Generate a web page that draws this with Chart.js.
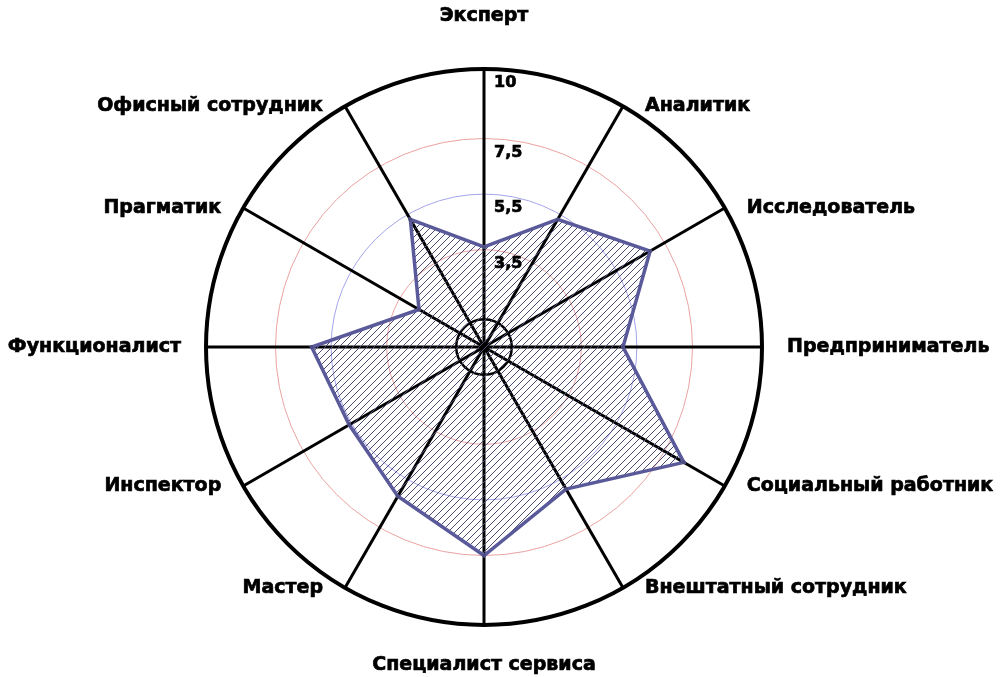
<!DOCTYPE html>
<html>
<head>
<meta charset="utf-8">
<script src="https://cdn.jsdelivr.net/npm/chart.js@4/dist/chart.umd.min.js"></script>
<style>
    body { margin: 0; background: #fff; }
    #chart { display: block; }
</style>
</head>
<body>
<canvas id="chart" width="1003" height="677"></canvas>
<script>
const categories = ['Эксперт', 'Аналитик', 'Исследователь', 'Предприниматель', 'Социальный работник',
    'Внештатный сотрудник', 'Специалист сервиса', 'Мастер', 'Инспектор', 'Функционалист',
    'Прагматик', 'Офисный сотрудник']
const values     = [3.6, 5.3, 6.9, 5.0, 8.3, 5.9, 7.5, 6.2, 5.6, 6.2, 2.7, 5.3]
const gridValues = [0, 1, 3.5, 5.5, 7.5, 10]
const tickLabels = ['10', '7,5', '5,5', '3,5']

const labelFont = 'bold 19px "DejaVu Sans"'
const tickFont  = 'bold 16px "DejaVu Sans"'

// hatch pattern for the filled area
function hatch() {
    const c   = document.createElement('canvas')
    c.width   = 7
    c.height  = 7
    const g   = c.getContext('2d')
    g.strokeStyle = '#4c4c72'
    g.lineWidth   = 1
    g.beginPath()
    g.moveTo(0, 7); g.lineTo(7, 0)
    g.moveTo(-1, 1); g.lineTo(1, -1)
    g.moveTo(6, 8); g.lineTo(8, 6)
    g.stroke()
    return g.createPattern(c, 'repeat')
}

function gridColor(ctx) {
    let v = ctx.tick ? ctx.tick.value : 0
    if (v === 3.5 || v === 7.5) return '#eaa2a2'
    if (v === 5.5) return '#a4a4ea'
    return '#000'
}

function gridWidth(ctx) {
    let v = ctx.tick ? ctx.tick.value : 0
    if (v === 10) return 4
    if (v === 1) return 2.5
    return 1
}

// heavier text, like the old bitmap font
function heavyText(ctx, text, x, y) {
    ctx.strokeText(text, x, y)
    ctx.fillText(text, x, y)
}

// category names and tick numbers drawn next to the scale
const textPlugin = {
    id: 'texts',
    afterDraw(chart) {
        const s   = chart.scales.r
        const ctx = chart.ctx
        const R   = s.drawingArea
        ctx.save()
        ctx.fillStyle    = '#000'
        ctx.strokeStyle  = '#000'
        ctx.lineWidth    = 0.7
        ctx.textBaseline = 'middle'

        ctx.font = labelFont
        categories.forEach((name, i) => {
            let angle = i * 30
            let p     = s.getPointPosition(i, R)
            let x = p.x, y = p.y, align
            if (angle === 0)        { align = 'center'; y -= 53 }
            else if (angle === 180) { align = 'center'; y += 40 }
            else if (angle === 90)  { align = 'left';   x += 25 }
            else if (angle === 270) { align = 'right';  x -= 25 }
            else if (angle < 180)   { align = 'left';   x += 22 }
            else                    { align = 'right';  x -= 22 }
            ctx.textAlign = align
            heavyText(ctx, name, x, y)
        })

        ctx.font      = tickFont
        ctx.textAlign = 'left'
        ;[10, 7.5, 5.5, 3.5].forEach((v, i) => {
            let d = s.getDistanceFromCenterForValue(v)
            heavyText(ctx, tickLabels[i], s.xCenter + 10, s.yCenter - d + 14)
        })
        ctx.restore()
    }
}

const chart = new Chart(document.getElementById('chart'), {
    type: 'radar',
    data: {
        labels: categories,
        datasets: [{
            data: values,
            borderColor: '#5a5a9a',
            borderWidth: 3.5,
            backgroundColor: hatch(),
            fill: true,
            pointRadius: 2,
            pointBackgroundColor: '#4c4c80',
            pointBorderWidth: 0,
            tension: 0
        }]
    },
    options: {
        responsive: false,
        animation: false,
        layout: { padding: { top: 69, bottom: 52, left: 200, right: 235 } },
        plugins: { legend: { display: false }, tooltip: { enabled: false } },
        scales: {
            r: {
                min: 0,
                max: 10,
                afterBuildTicks(scale) {
                    scale.ticks = gridValues.map(v => ({ value: v }))
                },
                ticks: { display: false },
                pointLabels: { display: false },
                grid: { circular: true, color: gridColor, lineWidth: gridWidth },
                angleLines: { color: '#000', lineWidth: 3 }
            }
        }
    },
    plugins: [textPlugin]
})
</script>
</body>
</html>
